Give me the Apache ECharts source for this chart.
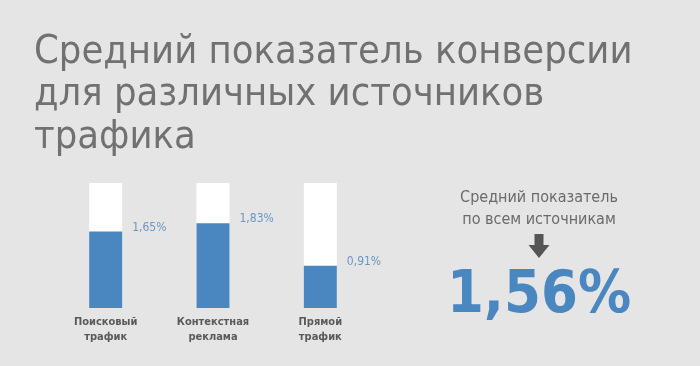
<!DOCTYPE html><html><head><meta charset="utf-8">
<script src="https://cdn.jsdelivr.net/npm/echarts@6/dist/echarts.min.js"></script>
<style>html,body{margin:0;padding:0;background:#e4e5e4}#chart{width:700px;height:366px}</style>
</head><body><div id="chart"></div>
<script>
var titleText = 'Средний показатель конверсии\nдля различных источников\nтрафика';
var categories = ['Поисковый\nтрафик', 'Контекстная\nреклама', 'Прямой\nтрафик'];
var values = [1.65, 1.83, 0.91];
var valueLabels = ['1,65%', '1,83%', '0,91%'];
var axisMax = 2.7;
var averageCaption = 'Средний показатель\nпо всем источникам';
var averageLabel = '1,56%';

var FONT = '"DejaVu Sans Condensed", "DejaVu Sans", sans-serif';
var chart = echarts.init(document.getElementById('chart'), null, {renderer: 'canvas'});
chart.setOption({
  backgroundColor: '#e4e5e4',
  animation: false,
  title: {
    text: titleText,
    left: 34, top: 31, padding: 0,
    textStyle: {fontFamily: FONT, fontSize: 39.5, fontWeight: 'normal', color: '#717171', lineHeight: 42.5}
  },
  grid: {left: 52, width: 322, top: 183, bottom: 58},
  xAxis: {
    type: 'category', data: categories,
    axisLine: {show: false}, axisTick: {show: false},
    axisLabel: {margin: 7, fontFamily: FONT, fontSize: 11, fontWeight: 'bold', color: '#5a5a5a', lineHeight: 14.6}
  },
  yAxis: {type: 'value', min: 0, max: axisMax, show: false, splitLine: {show: false}},
  series: [{
    type: 'bar', data: values, barWidth: 33,
    showBackground: true, backgroundStyle: {color: '#ffffff'},
    itemStyle: {color: '#4a87c0'},
    label: {
      show: true, position: ['100%', 0], offset: [10, -4], align: 'left', verticalAlign: 'middle',
      formatter: function (p) { return valueLabels[p.dataIndex]; },
      fontFamily: FONT, fontSize: 12, color: '#6b96c6'
    }
  }],
  graphic: [
    {type: 'text', x: 539, y: 209, style: {text: averageCaption, font: '16px ' + FONT, fill: '#6a6a6a', align: 'center', verticalAlign: 'middle', lineHeight: 22.5}},
    {type: 'polygon', shape: {points: [[534.5, 234], [543.5, 234], [543.5, 245], [549.5, 245], [539, 258], [528.5, 245], [534.5, 245]]}, style: {fill: '#555555'}},
    {type: 'text', x: 539, y: 297, style: {text: averageLabel, font: 'bold 59px ' + FONT, fill: '#4a87c0', align: 'center', verticalAlign: 'middle'}}
  ]
});
</script></body></html>
